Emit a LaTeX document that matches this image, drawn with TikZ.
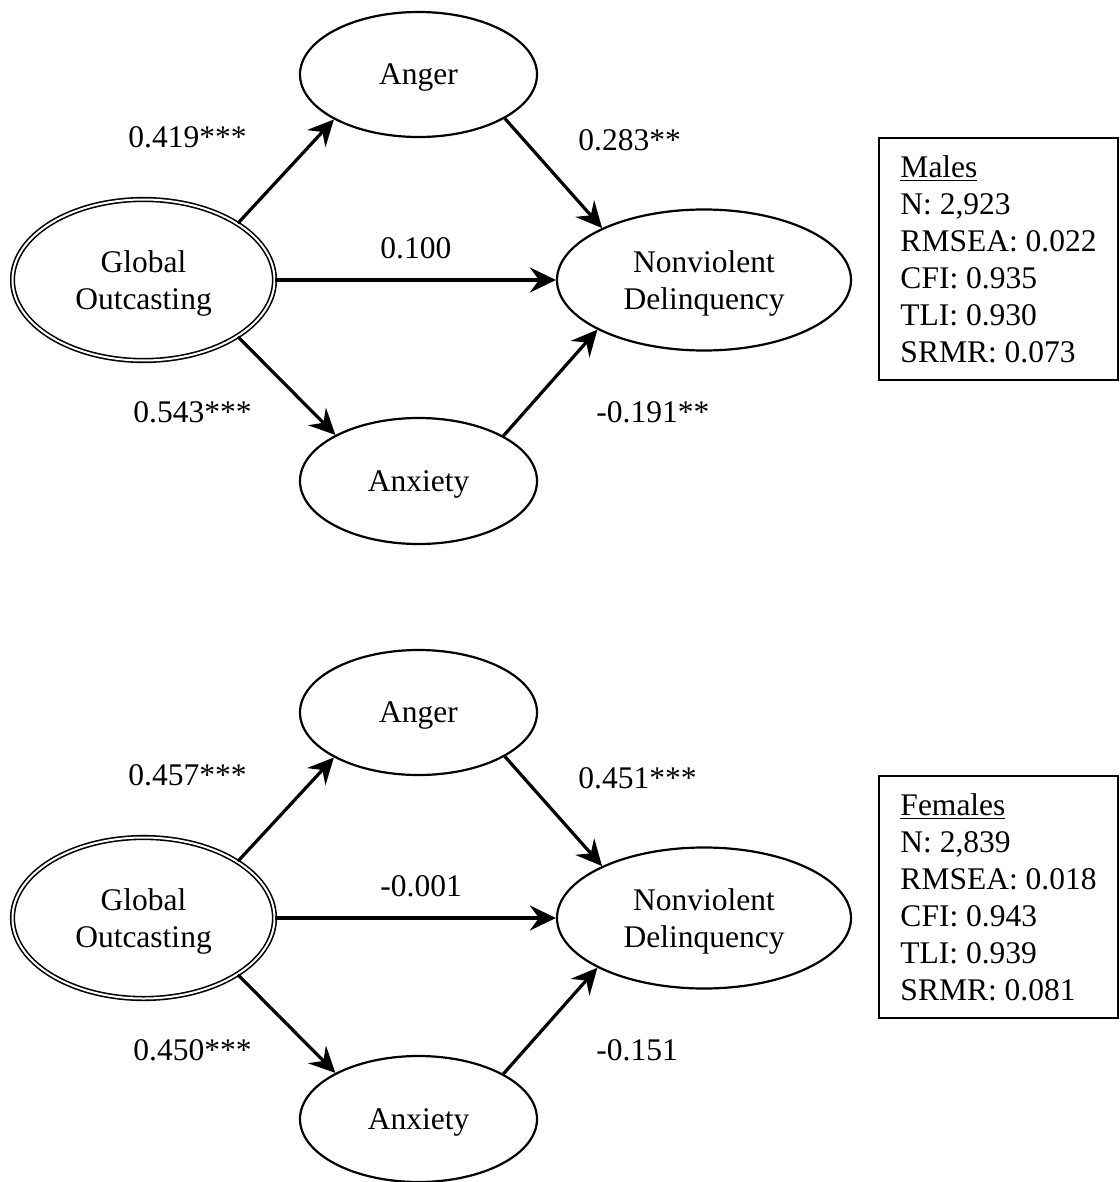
\documentclass[tikz,border=0pt]{standalone}
\usepackage{fontspec}
\setmainfont{Liberation Serif}
\usetikzlibrary{shapes.geometric,arrows.meta}
\newcommand\pathfont{\fontsize{15.75pt}{18.5pt}\selectfont}
\begin{document}
\begin{tikzpicture}[x=0.5pt,y=-0.5pt,
  latent/.style={ellipse, draw, line width=1.1pt, inner sep=0pt, text depth=0pt,
    font=\pathfont, align=center},
  exo/.style={latent, double, line width=0.8pt, double distance=1pt},
  regpath/.style={-{Stealth[length=13pt,width=12.5pt,inset=4.5pt]}, line width=1.6pt},
  coef/.style={anchor=west, inner sep=0pt, font=\pathfont},
  fitbox/.style={draw, line width=1pt, anchor=north west, minimum width=119.5pt,
    minimum height=121pt, align=left, font=\pathfont}]
\useasboundingbox (0,0) rectangle (1119,1182);

% ---------- Males ----------
\node[exo, minimum width=131pt, minimum height=80.5pt] (mgo) at (143.5,280) {Global\\Outcasting};
\node[latent, minimum width=118.5pt, minimum height=62.5pt] (manger) at (418.5,74.5) {Anger};
\node[latent, minimum width=147pt, minimum height=70.5pt] (mnd) at (704,280) {Nonviolent\\Delinquency};
\node[latent, minimum width=118.5pt, minimum height=63pt] (manx) at (418.5,481) {Anxiety};

\draw[regpath] (mgo.31.5) -- (manger.208.6);
\draw[regpath] (mgo.east) -- (mnd.west);
\draw[regpath] (mgo.-31.5) -- (manx.151.7);
\draw[regpath] (manger.-27.5) -- (mnd.153.4);
\draw[regpath] (manx.28.8) -- (mnd.205.5);

\node[coef] (mc1) at (128,137) {0.419***};
\node[coef] (mc2) at (380,248) {0.100};
\node[coef] (mc3) at (578,140) {0.283**};
\node[coef] (mc4) at (133,412) {0.543***};
\node[coef] (mc5) at (596,412) {-0.191**};

\node[fitbox] (mfit) at (878,137) {\underline{Males}\\N: 2,923\\RMSEA: 0.022\\CFI: 0.935\\TLI: 0.930\\SRMR: 0.073};

% ---------- Females ----------
\begin{scope}[shift={(0,638)}]
\node[exo, minimum width=131pt, minimum height=80.5pt] (fgo) at (143.5,280) {Global\\Outcasting};
\node[latent, minimum width=118.5pt, minimum height=62.5pt] (fanger) at (418.5,74.5) {Anger};
\node[latent, minimum width=147pt, minimum height=70.5pt] (fnd) at (704,280) {Nonviolent\\Delinquency};
\node[latent, minimum width=118.5pt, minimum height=63pt] (fanx) at (418.5,481) {Anxiety};

\draw[regpath] (fgo.31.5) -- (fanger.208.6);
\draw[regpath] (fgo.east) -- (fnd.west);
\draw[regpath] (fgo.-31.5) -- (fanx.151.7);
\draw[regpath] (fanger.-27.5) -- (fnd.153.4);
\draw[regpath] (fanx.28.8) -- (fnd.205.5);

\node[coef] (fc1) at (128,137) {0.457***};
\node[coef] (fc2) at (380,248) {-0.001};
\node[coef] (fc3) at (578,140) {0.451***};
\node[coef] (fc4) at (133,412) {0.450***};
\node[coef] (fc5) at (596,412) {-0.151};

\node[fitbox] (ffit) at (878,137) {\underline{Females}\\N: 2,839\\RMSEA: 0.018\\CFI: 0.943\\TLI: 0.939\\SRMR: 0.081};
\end{scope}
\end{tikzpicture}
\end{document}
